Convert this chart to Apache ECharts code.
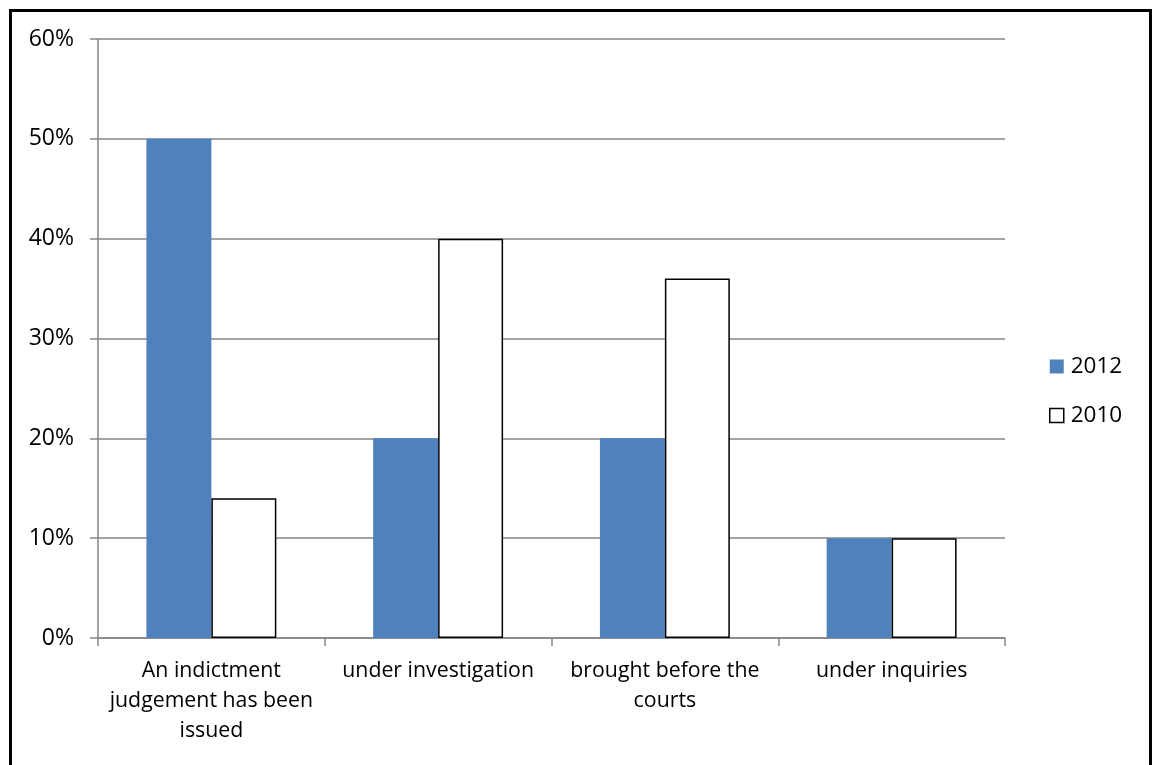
<!DOCTYPE html>
<html><head><meta charset="utf-8">
<script src="https://cdn.jsdelivr.net/npm/echarts@6/dist/echarts.min.js"></script>
<style>
html,body{margin:0;padding:0;background:#fff;}
#wrap{position:relative;width:1154px;height:765px;overflow:hidden;}
#frame{position:absolute;left:9px;top:9px;width:1143px;height:800px;border:3px solid #000;box-sizing:border-box;}
#chart{position:absolute;left:0;top:0;width:1154px;height:765px;}
</style></head>
<body><div id="wrap"><div id="frame"></div><div id="chart"></div></div>
<script>
const categories = ["An indictment\njudgement has been\nissued", "under investigation", "brought before the\ncourts", "under inquiries"];
const seriesNames = ["2012", "2010"];
const values2012 = [50, 20, 20, 10];
const values2010 = [14, 40, 36, 10];
const yTicks = [0, 10, 20, 30, 40, 50, 60];

const FONT = "Open Sans";
const chart = echarts.init(document.getElementById('chart'));
chart.setOption({
  animation: false,
  grid: {left: 98, right: 149, top: 39, bottom: 127, containLabel: false},
  legend: {
    orient: 'vertical', left: 1044, top: 350, itemWidth: 14, itemHeight: 14, itemGap: 26, itemStyle: {borderWidth: 0},
    textStyle: {fontFamily: FONT, fontSize: 22.5, color: '#000', lineHeight: 22, padding: [0, 0, 0, 2]},
    data: [
      {name: seriesNames[0], icon: 'rect'},
      {name: seriesNames[1], icon: 'rect', itemStyle: {color: '#fff', borderColor: '#000', borderWidth: 1.5}}
    ]
  },
  xAxis: {
    type: 'category', data: categories,
    axisLine: {lineStyle: {color: '#868686', width: 1.5}},
    axisTick: {show: true, length: 8, alignWithLabel: false, lineStyle: {color: '#868686', width: 1.5}},
    axisLabel: {interval: 0, color: '#000', fontFamily: FONT, fontSize: 21.3, lineHeight: 30, margin: 18}
  },
  yAxis: {
    type: 'value', min: 0, max: 60, interval: 10,
    axisLine: {show: true, lineStyle: {color: '#868686', width: 1.5}},
    axisTick: {show: true, length: 8, lineStyle: {color: '#868686', width: 1.5}},
    splitLine: {lineStyle: {color: '#868686', width: 1.5}},
    axisLabel: {color: '#000', fontFamily: FONT, fontSize: 23, margin: 24, formatter: v => v + '%'}
  },
  series: [
    {name: seriesNames[0], type: 'bar', data: values2012, barGap: '0%', barCategoryGap: '42.7%',
     itemStyle: {color: '#4F81BD'}},
    {name: seriesNames[1], type: 'bar', data: values2010, barGap: '0%', barCategoryGap: '42.7%',
     itemStyle: {color: '#fff', borderColor: '#000', borderWidth: 1.5}}
  ]
});
</script></body></html>
